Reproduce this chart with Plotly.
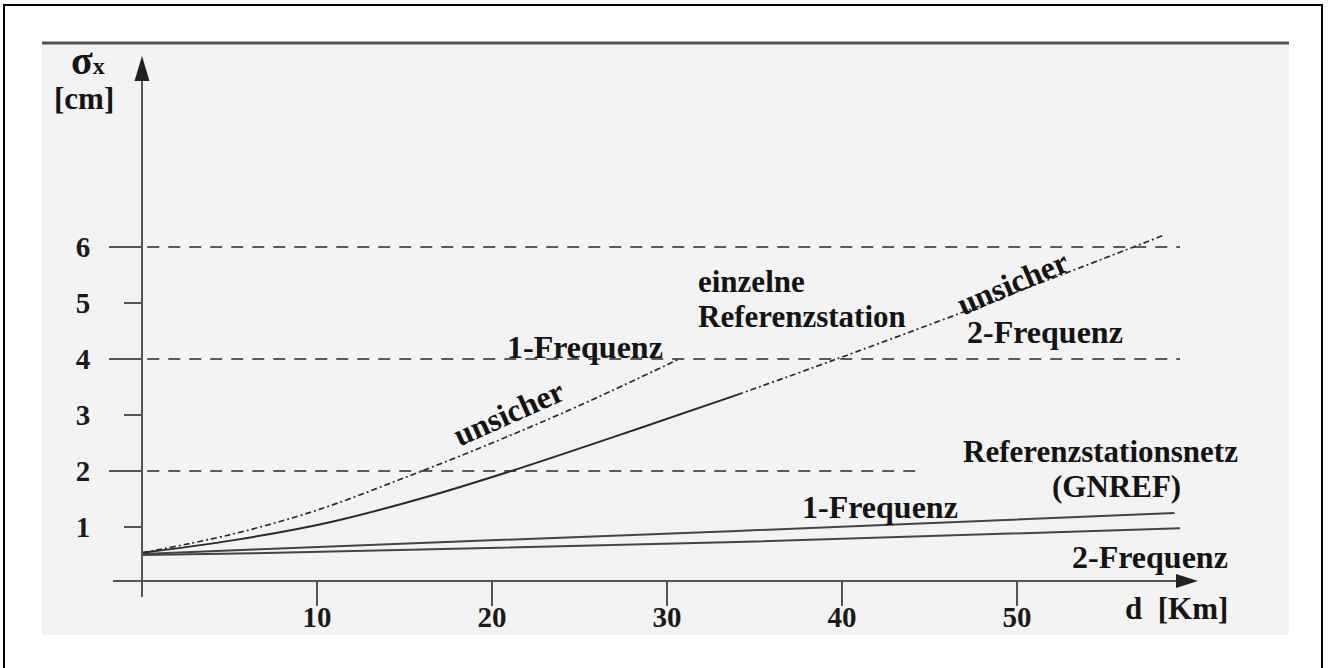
import plotly.graph_objects as go

# ---- data ----
# single reference station, 1-Frequenz (uncertain, dash-dot)
d_single_1f = [0, 5, 10, 15, 20, 25, 30.7]
s_single_1f = [0.54, 0.86, 1.30, 1.88, 2.50, 3.17, 4.0]
# single reference station, 2-Frequenz (solid part)
d_single_2f = [0, 5.35, 10.8, 16.3, 21.3, 28.3, 34.0]
s_single_2f = [0.54, 0.77, 1.09, 1.54, 2.02, 2.75, 3.36]
# single reference station, 2-Frequenz (uncertain continuation)
d_single_2f_u = [34.0, 39.7, 50.0, 58.3]
s_single_2f_u = [3.36, 4.0, 5.2, 6.2]
# reference station network (GNREF)
d_net_1f = [0, 6.4, 34.0, 59.0]
s_net_1f = [0.52, 0.60, 0.93, 1.25]
d_net_2f = [0, 6.4, 34.0, 59.6]
s_net_2f = [0.50, 0.53, 0.73, 0.98]
# dashed reference levels
grid_levels = [2, 4, 6]
grid_ends = [44.4, 59.4, 59.4]
# ticks
x_ticks = [10, 20, 30, 40, 50]
y_ticks = [1, 2, 3, 4, 5, 6]
y_long_ticks = [2, 4, 6]

W, H = 1332, 668
X0PX, XSCALE = 142.0, 17.5   # pixel of d=0, px per km
Y0PX, YSCALE = 583.0, 56.0   # pixel of sigma=0, px per cm

def dx(px):
    return (px - X0PX) / XSCALE

def dy(py):
    return (Y0PX - py) / YSCALE

def px_(px):
    return px / W

def py_(py):
    return 1 - py / H

SERIF = "Liberation Serif"
CURVE = "#2b2b2b"
AXC = "#555555"

fig = go.Figure()

# dashed levels
for lvl, end in zip(grid_levels, grid_ends):
    fig.add_trace(go.Scatter(x=[0.3, end], y=[lvl, lvl], mode="lines",
                             line=dict(color="#5a5a5a", width=2, dash="12px,9px"),
                             hoverinfo="skip", showlegend=False))

fig.add_trace(go.Scatter(x=d_net_2f, y=s_net_2f, mode="lines",
                         line=dict(color="#444444", width=2), showlegend=False))
fig.add_trace(go.Scatter(x=d_net_1f, y=s_net_1f, mode="lines",
                         line=dict(color="#444444", width=2), showlegend=False))
fig.add_trace(go.Scatter(x=d_single_2f, y=s_single_2f, mode="lines", line_shape="spline",
                         line=dict(color=CURVE, width=2), showlegend=False))
fig.add_trace(go.Scatter(x=d_single_2f_u, y=s_single_2f_u, mode="lines", line_shape="spline",
                         line=dict(color=CURVE, width=1.7, dash="6px,3px,2px,3px"),
                         showlegend=False))
fig.add_trace(go.Scatter(x=d_single_1f, y=s_single_1f, mode="lines", line_shape="spline",
                         line=dict(color=CURVE, width=1.7, dash="6px,3px,2px,3px"),
                         showlegend=False))

# axes geometry
x_dom = [px_(113), px_(1180)]
y_dom = [py_(597), py_(78)]

fig.update_layout(
    width=W, height=H,
    margin=dict(l=0, r=0, t=0, b=0),
    paper_bgcolor="white", plot_bgcolor="rgba(0,0,0,0)",
    showlegend=False,
    xaxis=dict(domain=x_dom, range=[dx(113), dx(1180)], anchor="free", position=py_(581),
               showgrid=False, zeroline=False, showline=True, linecolor=AXC, linewidth=2,
               tickmode="array", tickvals=x_ticks, ticktext=[str(v) for v in x_ticks],
               ticks="outside", ticklen=24, tickwidth=2, tickcolor=AXC,
               ticklabelstandoff=-14,
               tickfont=dict(family=SERIF, size=29, color="#1a1a1a", weight="bold")),
    yaxis=dict(domain=y_dom, range=[dy(597), dy(78)], anchor="free", position=px_(142),
               showgrid=False, zeroline=False, showline=True, linecolor=AXC, linewidth=2,
               tickmode="array", tickvals=y_ticks, ticktext=[str(v) for v in y_ticks],
               ticks="outside", ticklen=17, tickwidth=2, tickcolor=AXC,
               ticklabelstandoff=28,
               tickfont=dict(family=SERIF, size=29, color="#1a1a1a", weight="bold")),
    yaxis2=dict(domain=y_dom, range=[dy(597), dy(78)], anchor="free", position=px_(142),
                overlaying="y", showgrid=False, zeroline=False, showline=False,
                tickmode="array", tickvals=y_long_ticks, showticklabels=False,
                ticks="outside", ticklen=33, tickwidth=2, tickcolor=AXC),
)
# dummy trace to activate yaxis2
fig.add_trace(go.Scatter(x=[None], y=[None], yaxis="y2", showlegend=False))

# background of the scanned area, top rule, outer frame
fig.add_shape(type="rect", xref="paper", yref="paper", x0=px_(42), x1=px_(1289),
              y0=py_(635), y1=py_(42), fillcolor="#f3f3f3", line=dict(width=0), layer="below")
fig.add_shape(type="line", xref="paper", yref="paper", x0=px_(42), x1=px_(1289),
              y0=py_(43), y1=py_(43), line=dict(color="#555555", width=3), layer="below")
fig.add_shape(type="rect", xref="paper", yref="paper", x0=px_(4), x1=px_(1322),
              y0=-0.01, y1=py_(5), line=dict(color="black", width=2), layer="above")

# arrow heads of the two axes
def tri(pts):
    return "M " + " L ".join(f"{px_(a)},{py_(b)}" for a, b in pts) + " Z"

fig.add_shape(type="path", xref="paper", yref="paper",
              path=tri([(142, 56), (134.5, 81), (149.5, 81)]),
              fillcolor="#222222", line=dict(width=0))
fig.add_shape(type="path", xref="paper", yref="paper",
              path=tri([(1198, 581), (1176, 574), (1176, 588)]),
              fillcolor="#222222", line=dict(width=0))

def note(text, x, y, ref="data", size=32, angle=0, xanchor="center"):
    xr, yr = ("x", "y") if ref == "data" else ("paper", "paper")
    fig.add_annotation(text=f"<b>{text}</b>", x=x, y=y, xref=xr, yref=yr,
                       showarrow=False, xanchor=xanchor, yanchor="middle",
                       textangle=angle,
                       font=dict(family=SERIF, size=size, color="#141414"))

note("σ<span style='font-size:24px'>x</span>", px_(88), py_(60), ref="paper", size=40)
note("[cm]", px_(84), py_(99), ref="paper", size=31)
note("d  [Km]", px_(1176), py_(608), ref="paper", size=31)

note("einzelne", dx(696), dy(281), xanchor="left", size=31)
note("Referenzstation", dx(696), dy(316), xanchor="left", size=31)
note("1-Frequenz", dx(585), dy(347))
note("unsicher", dx(508), dy(413), angle=-24)
note("unsicher", dx(1012), dy(283), angle=-23)
note("2-Frequenz", dx(1045), dy(332))
note("Referenzstationsnetz", dx(1100), dy(451), size=31)
note("(GNREF)", dx(1116), dy(486), size=31)
note("1-Frequenz", dx(880), dy(507))
note("2-Frequenz", dx(1150), dy(557))

fig.write_html("out.html", config={"displayModeBar": False},
               post_script="document.body.style.margin='0';document.body.style.padding='0';")
